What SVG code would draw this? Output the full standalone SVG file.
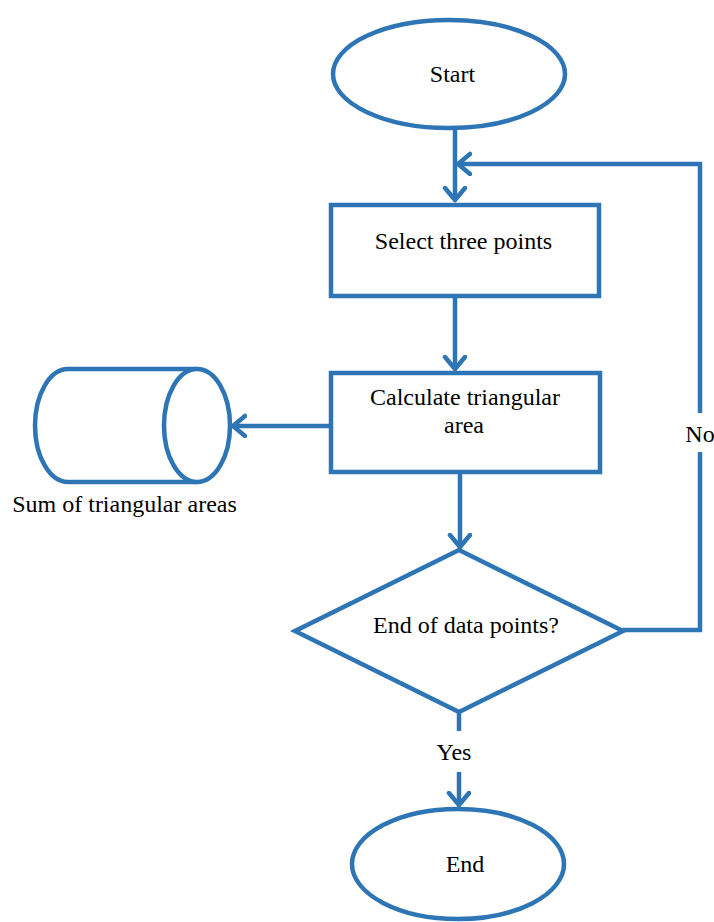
<svg xmlns="http://www.w3.org/2000/svg" width="714" height="922" viewBox="0 0 714 922">
<style>
.s{fill:#fff;stroke:#2e75b6;stroke-width:4.5}
.c{fill:none;stroke:#2e75b6;stroke-width:4.5}
text{font-family:"Liberation Serif","Times New Roman",serif;font-size:24px;fill:#000;text-anchor:middle}
</style>
<defs>
<marker id="a" markerUnits="userSpaceOnUse" markerWidth="30" markerHeight="30" refX="14" refY="12" orient="auto" viewBox="0 0 30 30">
<path d="M2,2 L14,12 L2,22" fill="none" stroke="#2e75b6" stroke-width="4.5" stroke-linecap="round" stroke-linejoin="round"/>
</marker>
</defs>
<g id="connectors">
<path class="c" d="M455,128 V200" marker-end="url(#a)"/>
<path class="c" d="M623,630 H700 V452 M700,413 V164 H458" marker-end="url(#a)"/>
<path class="c" d="M455,296 V369" marker-end="url(#a)"/>
<path class="c" d="M330,426 H233" marker-end="url(#a)"/>
<path class="c" d="M460,473 V547" marker-end="url(#a)"/>
<path class="c" d="M459,712 V731 M459,772 V805" marker-end="url(#a)"/>
<text x="700" y="442">No</text>
<text x="454" y="760">Yes</text>
</g>
<g id="start">
<ellipse class="s" cx="449" cy="74" rx="116" ry="54"/>
<text x="452.5" y="82">Start</text>
</g>
<g id="select">
<rect class="s" x="331" y="205" width="268" height="91"/>
<text x="463.5" y="249">Select three points</text>
</g>
<g id="calc">
<rect class="s" x="331" y="373" width="269" height="99"/>
<text x="465" y="405">Calculate triangular</text>
<text x="464" y="433">area</text>
</g>
<g id="sum">
<path class="s" d="M197,369 H68 A33,56.5 0 0 0 68,482 H197"/>
<ellipse class="s" cx="197" cy="425.5" rx="33" ry="56.5"/>
<text x="124.5" y="512">Sum of triangular areas</text>
</g>
<g id="decision">
<polygon class="s" points="459,550 623,631 459,712 295,631"/>
<text x="466" y="633">End of data points?</text>
</g>
<g id="end">
<ellipse class="s" cx="458" cy="864" rx="106" ry="55"/>
<text x="465" y="872">End</text>
</g>
</svg>
